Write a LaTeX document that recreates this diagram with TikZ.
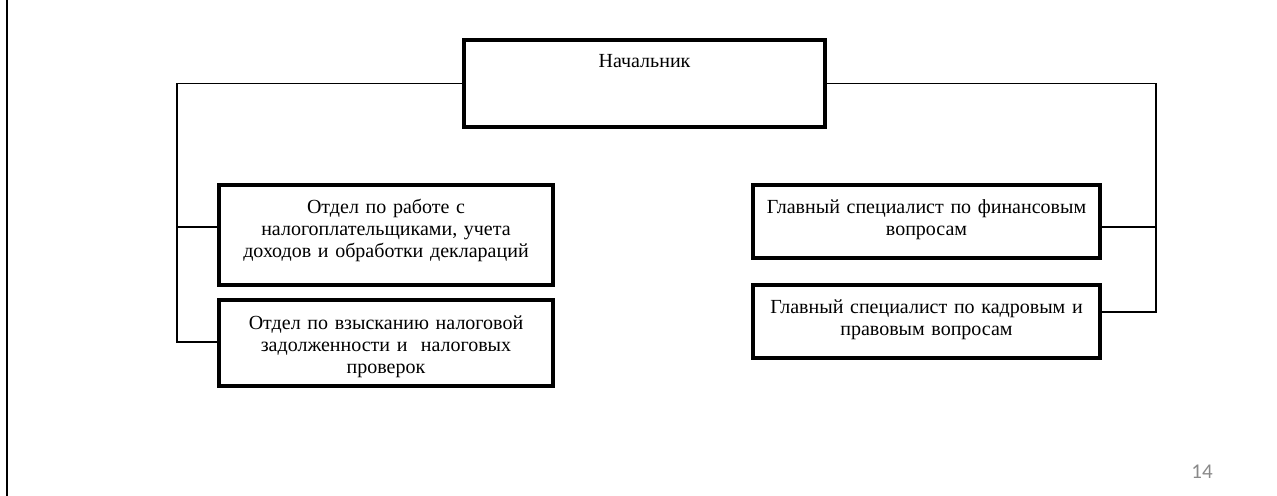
\documentclass[tikz,border=0pt]{standalone}
\usepackage{fontspec}
\setmainfont{Liberation Serif}
\newfontfamily\pagefont{Carlito}
\usetikzlibrary{positioning}

\definecolor{pagegray}{RGB}{137,137,137}
\tikzset{
  unit/.style={draw,line width=1.8pt,outer sep=0pt,inner xsep=4pt,inner ysep=0pt,
    align=center,font=\fontsize{10pt}{11pt}\selectfont,text height=14.5pt},
  link/.style={line width=0.6pt}
}

\begin{document}
\begin{tikzpicture}[x=0.5pt,y=-0.5pt]
        \useasboundingbox (0,0) rectangle (1277,496);
        \draw [line width=1.3pt] (7,0) -- (7,496);
        \node [unit,text width=172.5pt,text height=14pt,text depth=29.5pt,anchor=north] (chief) at (644.5,40) {Начальник};
        \node [unit,text width=159pt,text depth=35.5pt,anchor=north west] (otdel1) at (219,185)
            {Отдел по работе с\\налогоплательщиками, учета\\доходов и обработки деклараций};
        \node [unit,text width=159pt,text depth=28.5pt] (otdel2) [below=7.5pt of otdel1]
            {Отдел по взысканию налоговой\\задолженности и\ \ налоговых\\проверок};
        \node [unit,text width=165.5pt,text depth=22pt] (spec1) [right=100pt of otdel1.north east,anchor=north west]
            {Главный специалист по финансовым\\вопросам};
        \node [unit,text width=165.5pt,text depth=22pt] (spec2) [below=13.5pt of spec1]
            {Главный специалист по кадровым и\\правовым вопросам};
        \node [font=\pagefont\fontsize{10.5pt}{12pt}\selectfont,text=pagegray] (page) at (1202,472) {14};
        \coordinate (lbus1) at (177,227);
        \coordinate (lbus2) at (177,342);
        \coordinate (rbus1) at (1156,227);
        \coordinate (rbus2) at (1156,312);
        \draw [link] (chief.west) -| (lbus2) -- (lbus2 -| otdel2.west);
        \draw [link] (lbus1) -- (lbus1 -| otdel1.west);
        \draw [link] (chief.east) -| (rbus2) -- (rbus2 -| spec2.east);
        \draw [link] (rbus1) -- (rbus1 -| spec1.east);
    \end{tikzpicture}
\end{document}
